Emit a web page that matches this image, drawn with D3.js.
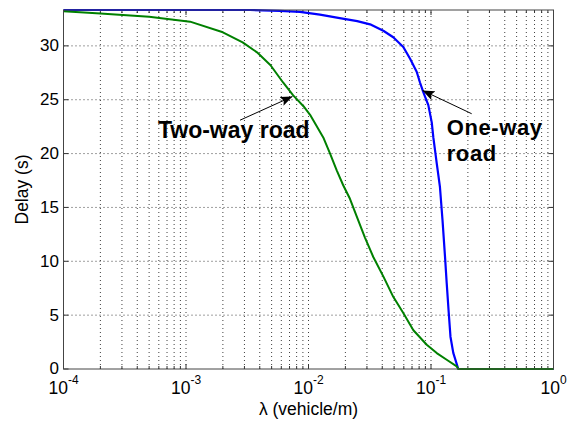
<!DOCTYPE html>
<html>
<head>
<meta charset="utf-8">
<script src="https://cdn.jsdelivr.net/npm/d3@7/dist/d3.min.js"></script>
<style>
  html, body { margin: 0; padding: 0; background: #fff; }
  svg { display: block; }
  text { font-family: "Liberation Sans", Arial, sans-serif; fill: #000; }
</style>
</head>
<body>
<svg id="chart" width="572" height="423"></svg>
<script>
// Vehicle density (vehicle/m) and mean delay (s) for the two road types
const twoWayLambda = [0.0001, 0.0002, 0.0005, 0.00108, 0.002, 0.0029, 0.0038, 0.0049, 0.0062, 0.0075, 0.0091, 0.0103,
  0.0132, 0.0150, 0.0170, 0.0192, 0.0218, 0.0247, 0.0289, 0.0338, 0.0408, 0.0492, 0.0594, 0.0718, 0.0923,
  0.1114, 0.1343, 0.1622, 0.167, 1];
const twoWayDelay = [33.22, 33.0, 32.7, 32.25, 31.26, 30.33, 29.4, 28.2, 26.6, 25.4, 24.4, 23.6,
  21.5, 20.0, 18.45, 17.06, 15.8, 14.2, 12.2, 10.4, 8.6, 6.7, 5.2, 3.6, 2.25,
  1.48, 0.86, 0.24, 0, 0];

const oneWayLambda = [0.0001, 0.00333, 0.00585, 0.0085, 0.0124, 0.0175, 0.025, 0.0318, 0.0408, 0.0492, 0.0594, 0.0675, 0.0764,
  0.0813, 0.0865, 0.0951, 0.1014, 0.1045, 0.1114, 0.1183, 0.1242, 0.130, 0.1343, 0.139, 0.1442, 0.152, 0.167, 1];
const oneWayDelay = [33.33, 33.33, 33.25, 33.15, 32.9, 32.6, 32.3, 32.0, 31.4, 30.8, 29.9, 28.8, 27.6,
  26.6, 25.7, 24.5, 22.9, 21.5, 19.1, 16.9, 13.8, 10.5, 8.0, 5.5, 3.0, 1.5, 0, 0];

const xTickValues = [1e-4, 1e-3, 1e-2, 1e-1, 1];
const xTickExponents = ["-4", "-3", "-2", "-1", "0"];
const yTickValues = [0, 5, 10, 15, 20, 25, 30];
const xDomain = [1e-4, 1];
const yDomain = [0, 33.33];

// Callouts: label text lines, arrow tip (on the curve) and arrow tail, in data units
const calloutLines = [["Two-way road"], ["One-way", "road"]];
const calloutTextPos = [[0.00059, 21.4], [0.1343, 21.7]];
const calloutTip = [[0.0074, 25.3], [0.0853, 25.86]];
const calloutTail = [[0.00276, 23.1], [0.2148, 23.7]];

const margin = { left: 63.5, right: 18.5, top: 10, bottom: 54 };
const W = 572, H = 423;
const svg = d3.select("#chart");

const x = d3.scaleLog().domain(xDomain).range([margin.left, W - margin.right]);
const y = d3.scaleLinear().domain(yDomain).range([H - margin.bottom, margin.top]);

const x0 = x.range()[0], x1 = x.range()[1];
const y0 = y.range()[0], y1 = y.range()[1];

// minor + major log positions
const allX = [];
for (let e = -4; e < 0; e++) {
  for (let m = 1; m <= 9; m++) allX.push(m * Math.pow(10, e));
}
allX.push(1);

// grid
const grid = svg.append("g");
grid.selectAll("line.vg").data(allX.filter(v => v > xDomain[0] && v < xDomain[1])).join("line")
  .attr("x1", d => x(d)).attr("x2", d => x(d))
  .attr("y1", y0).attr("y2", y1)
  .attr("stroke", "#000").attr("stroke-width", 1)
  .attr("stroke-dasharray", "1,3").attr("opacity", 0.75);
grid.selectAll("line.hg").data(yTickValues.filter(v => v > 0)).join("line")
  .attr("x1", x0).attr("x2", x1)
  .attr("y1", d => y(d)).attr("y2", d => y(d))
  .attr("stroke", "#000").attr("stroke-width", 1)
  .attr("stroke-dasharray", "1,3").attr("opacity", 0.75);

// ticks (inward, on all four sides)
const ticks = svg.append("g").attr("stroke", "#333").attr("stroke-width", 1);
allX.forEach(v => {
  const len = xTickValues.includes(v) ? 5 : 3;
  ticks.append("line").attr("x1", x(v)).attr("x2", x(v)).attr("y1", y0).attr("y2", y0 - len);
  ticks.append("line").attr("x1", x(v)).attr("x2", x(v)).attr("y1", y1).attr("y2", y1 + len);
});
yTickValues.forEach(v => {
  ticks.append("line").attr("x1", x0).attr("x2", x0 + 5).attr("y1", y(v)).attr("y2", y(v));
  ticks.append("line").attr("x1", x1).attr("x2", x1 - 5).attr("y1", y(v)).attr("y2", y(v));
});

// curves
const line = d3.line().x(d => x(d[0])).y(d => y(d[1]));
svg.append("path")
  .attr("d", line(d3.zip(oneWayLambda, oneWayDelay)))
  .attr("fill", "none").attr("stroke", "#0000ff").attr("stroke-width", 2.2)
  .attr("stroke-linejoin", "round");
svg.append("path")
  .attr("d", line(d3.zip(twoWayLambda, twoWayDelay)))
  .attr("fill", "none").attr("stroke", "#008000").attr("stroke-width", 2)
  .attr("stroke-linejoin", "round");

// frame
svg.append("rect")
  .attr("x", x0).attr("y", y1).attr("width", x1 - x0).attr("height", y0 - y1)
  .attr("fill", "none").attr("stroke", "#444").attr("stroke-width", 1);

// x tick labels 10^n: mantissa and exponent as separate texts, centred together on the tick
const xl = svg.append("g");
xTickValues.forEach((v, i) => {
  const base = xl.append("text").attr("y", 394).attr("font-size", 17.5).text("10");
  const sup = xl.append("text").attr("y", 383.5).attr("font-size", 12).text(xTickExponents[i]);
  const wb = base.node().getComputedTextLength();
  const ws = sup.node().getComputedTextLength();
  const left = x(v) - (wb + ws) / 2;
  base.attr("x", left);
  sup.attr("x", left + wb);
});

// y tick labels
svg.append("g").selectAll("text").data(yTickValues).join("text")
  .attr("x", x0 - 4.5).attr("y", d => y(d)).attr("dy", "0.32em")
  .attr("text-anchor", "end").attr("font-size", 17)
  .text(d => d);

// axis titles
svg.append("text").attr("x", (x0 + x1) / 2).attr("y", 414.5)
  .attr("text-anchor", "middle").attr("font-size", 17.5)
  .text("λ (vehicle/m)");
svg.append("text")
  .attr("transform", `translate(27.5,${(y0 + y1) / 2}) rotate(-90)`)
  .attr("text-anchor", "middle").attr("font-size", 17.5)
  .text("Delay (s)");

// callouts
const defs = svg.append("defs");
defs.append("marker").attr("id", "head")
  .attr("viewBox", "0 0 10 10").attr("refX", 10).attr("refY", 5)
  .attr("markerWidth", 12).attr("markerHeight", 12)
  .attr("markerUnits", "userSpaceOnUse")
  .attr("orient", "auto")
  .append("path").attr("d", "M0,1 L10,5 L0,9 L2,5 Z").attr("fill", "#000");

const calloutSize = [23, 22];
const calloutSpacing = [0, 0.6];
calloutLines.forEach((lines, i) => {
  svg.append("line")
    .attr("x1", x(calloutTail[i][0])).attr("y1", y(calloutTail[i][1]))
    .attr("x2", x(calloutTip[i][0])).attr("y2", y(calloutTip[i][1]))
    .attr("stroke", "#000").attr("stroke-width", 1)
    .attr("marker-end", "url(#head)");
  lines.forEach((s, j) => {
    svg.append("text")
      .attr("x", x(calloutTextPos[i][0]))
      .attr("y", y(calloutTextPos[i][1]) + j * 25.5)
      .attr("font-size", calloutSize[i]).attr("font-weight", "bold")
      .attr("letter-spacing", calloutSpacing[i])
      .text(s);
  });
});
</script>
</body>
</html>
